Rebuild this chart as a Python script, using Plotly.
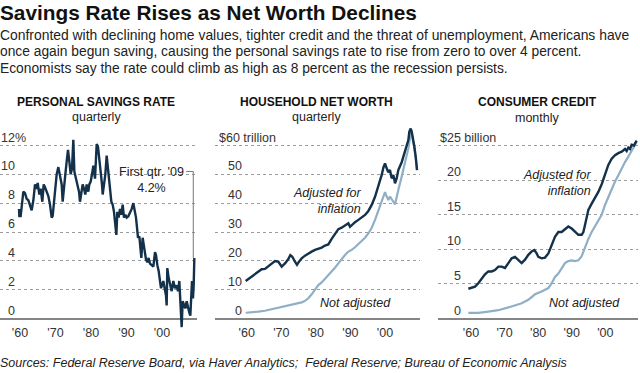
import plotly.graph_objects as go

W, H = 640, 373
FONT = "Liberation Sans, Arial, Helvetica, sans-serif"
DARK = "#13314a"
LIGHT = "#8fafc7"
GRID = "#9c9c9c"
TXT = "#222222"

# ---------------- data ----------------
X_TICKS = [1960, 1970, 1980, 1990, 2000]
X_TICK_TEXT = ["'60", "'70", "'80", "'90", "'00"]

SAV_TICKS = [0, 2, 4, 6, 8, 10, 12]
NW_TICKS = [0, 10, 20, 30, 40, 50, 60]
CC_TICKS = [0, 5, 10, 15, 20, 25]

SAV_YEARS = [1959.72, 1959.81, 1960.19, 1960.56, 1960.94, 1961.41, 1961.88, 1962.35, 1963.0, 1963.29,
             1963.76, 1964.23, 1964.69, 1964.98, 1965.45, 1965.82, 1966.29, 1966.67, 1967.04, 1967.51,
             1967.98, 1968.45, 1968.92, 1969.2, 1969.58, 1969.95, 1970.33, 1970.8, 1971.27, 1971.74,
             1972.02, 1972.39, 1972.77, 1973.15, 1973.52, 1973.9, 1974.27, 1974.65, 1975.02, 1975.31,
             1975.77, 1976.15, 1976.62, 1976.9, 1977.28, 1977.65, 1978.03, 1978.4, 1978.78, 1979.25,
             1979.53, 1979.91, 1980.28, 1980.66, 1981.13, 1981.6, 1981.97, 1982.35, 1982.72, 1983.1,
             1983.29, 1983.66, 1984.04, 1984.41, 1984.79, 1985.07, 1985.35, 1985.73, 1986.1, 1986.48,
             1986.85, 1987.14, 1987.42, 1987.79, 1988.17, 1988.54, 1988.92, 1989.3, 1989.67, 1990.05,
             1990.52, 1990.99, 1991.46, 1991.92, 1992.3, 1992.68, 1992.96, 1993.24, 1993.62, 1993.9,
             1994.18, 1994.55, 1994.84, 1995.12, 1995.49, 1995.87, 1996.24, 1996.62, 1997.09, 1997.56,
             1998.03, 1998.31, 1998.69, 1999.06, 1999.44, 1999.72, 2000.0, 2000.38, 2000.75, 2001.13,
             2001.31, 2001.5, 2001.88, 2002.25, 2002.72, 2003.19, 2003.66, 2004.13, 2004.51, 2004.88,
             2005.26, 2005.54, 2005.82, 2006.2, 2006.57, 2006.95, 2007.32, 2007.7, 2007.98, 2008.17,
             2008.45, 2008.73, 2008.92, 2009.11]
SAV_RATE = [7.6, 7.1, 7.1, 7.9, 8.8, 8.7, 8.3, 8.2, 7.6, 7.5,
            8.2, 9.3, 9.0, 9.4, 8.6, 9.0, 8.1, 9.3, 9.1, 8.8,
            8.5, 7.9, 7.0, 7.1, 8.1, 9.3, 10.0, 10.5, 10.0, 9.3,
            8.1, 9.3, 10.0, 10.9, 11.7, 10.9, 10.0, 10.4, 12.4, 10.2,
            9.7, 9.3, 8.8, 8.1, 8.8, 9.3, 9.0, 8.6, 9.3, 8.8,
            9.3, 9.5, 10.0, 10.6, 9.7, 12.1, 11.9, 11.1, 10.2, 9.3,
            8.6, 9.3, 10.0, 11.3, 10.4, 9.5, 8.8, 8.1, 7.9, 7.4,
            6.5, 5.8, 7.4, 7.0, 7.6, 7.2, 7.9, 7.0, 7.2, 7.0,
            7.1, 7.3, 7.6, 8.0, 7.6, 7.0, 6.3, 5.6, 5.7, 5.1,
            4.2, 5.6, 5.1, 4.6, 4.1, 3.9, 4.2, 3.8, 3.7, 3.6,
            4.6, 4.4, 3.7, 3.3, 2.6, 2.1, 2.3, 2.6, 2.1, 1.6,
            0.9, 3.5, 2.8, 2.3, 1.9, 2.6, 2.1, 2.3, 1.9, 2.6,
            0.5, -0.6, 1.2, 0.9, 0.7, 1.2, 0.7, 0.4, 0.2, 1.4,
            2.6, 1.4, 2.3, 4.2]

NW_ADJ_YEARS = [1959.7, 1960.47, 1961.44, 1962.4, 1963.37, 1964.33, 1965.29, 1966.26, 1967.22, 1968.19, 1969.15,
                1970.12, 1971.08, 1972.04, 1972.62, 1973.2, 1973.97, 1974.55, 1975.13, 1975.9,
                1976.86, 1977.83, 1978.79, 1979.76, 1980.72, 1981.68, 1982.65, 1983.61, 1984.58, 1985.54,
                1986.51, 1987.47, 1988.44, 1989.4, 1989.88, 1990.37, 1991.33, 1992.3, 1993.26, 1994.23,
                1995.19, 1996.16, 1997.12, 1997.89, 1998.57, 1999.05, 1999.53, 2000.01, 2000.49, 2000.97,
                2001.45, 2001.94, 2002.42, 2002.9, 2003.38, 2003.86, 2004.83, 2005.79, 2006.76, 2007.05,
                2007.44, 2007.73, 2008.11, 2008.5, 2008.89, 2009.27]
NW_ADJ = [13.0, 13.7, 14.5, 15.3, 16.2, 17.1, 17.2, 18.0, 19.1, 19.9, 19.7,
          18.0, 19.1, 20.6, 22.0, 21.4, 19.7, 18.6, 19.7, 20.9,
          21.8, 22.6, 23.2, 23.8, 24.1, 24.6, 25.3, 25.7, 27.6, 29.2,
          31.0, 31.5, 32.4, 33.0, 31.8, 32.4, 33.4, 34.2, 35.0, 35.9,
          37.3, 39.4, 42.2, 45.1, 47.5, 49.8, 52.3, 53.8, 52.1, 50.7,
          51.5, 48.6, 49.8, 46.9, 48.6, 51.5, 54.2, 57.9, 61.9, 64.8,
          65.9, 64.8, 62.5, 59.6, 56.1, 51.5]

NW_NOM_YEARS = [1959.7, 1961.44, 1963.37, 1965.29, 1967.22, 1969.15, 1971.08, 1973.01, 1974.93, 1975.9,
                1976.86, 1977.83, 1978.79, 1979.76, 1980.72, 1981.68, 1982.65, 1983.61, 1984.58, 1985.54,
                1986.51, 1987.47, 1988.44, 1989.4, 1990.37, 1991.33, 1992.3, 1993.26, 1994.23, 1995.19,
                1996.16, 1997.12, 1998.08, 1999.05, 1999.53, 2000.01, 2000.49, 2000.97, 2001.45, 2001.94,
                2002.42, 2002.9, 2003.38, 2003.86, 2004.83, 2005.79, 2006.76, 2007.05, 2007.44, 2007.73,
                2008.11, 2008.5, 2008.89, 2009.27]
NW_NOM = [2.0, 2.1, 2.4, 2.7, 3.2, 3.8, 4.2, 4.8, 5.3, 5.6,
          6.1, 7.0, 8.4, 10.2, 11.6, 12.5, 13.7, 14.9, 16.2, 17.6,
          19.1, 20.6, 22.0, 23.2, 23.8, 24.7, 25.7, 26.9, 28.0, 29.5,
          31.5, 34.2, 37.6, 41.1, 42.8, 43.8, 42.3, 41.1, 42.3, 41.1,
          40.5, 39.6, 41.7, 44.6, 49.2, 53.8, 59.0, 61.3, 64.2, 63.9,
          61.9, 59.0, 55.5, 51.5]

CC_ADJ_YEARS = [1959.21, 1960.2, 1961.19, 1962.18, 1963.18, 1964.17, 1965.16, 1966.16, 1967.15, 1968.14,
                1969.14, 1970.13, 1971.12, 1972.12, 1973.11, 1974.1, 1975.09, 1976.09, 1977.08, 1978.07,
                1978.87, 1979.56, 1980.06, 1981.05, 1982.05, 1983.04, 1984.03, 1985.02, 1986.02, 1987.01,
                1988.0, 1989.0, 1989.99, 1990.98, 1991.98, 1992.97, 1993.47, 1993.96, 1994.96, 1995.95,
                1996.94, 1997.93, 1998.93, 1999.92, 2000.91, 2001.91, 2002.9, 2003.89, 2004.89, 2005.88,
                2006.37, 2006.87, 2007.37, 2007.86, 2008.56, 2008.86, 2009.36]
CC_ADJ = [4.3, 4.5, 4.6, 5.1, 5.8, 6.4, 6.8, 6.8, 7.0, 7.5,
          7.5, 7.3, 8.0, 8.7, 8.9, 8.5, 8.0, 8.5, 9.2, 9.7,
          9.9, 9.4, 8.9, 8.7, 8.8, 9.4, 10.6, 11.8, 12.5, 12.5,
          12.9, 13.3, 13.0, 12.5, 12.1, 12.1, 12.5, 13.5, 15.7, 16.6,
          17.4, 18.3, 19.4, 20.7, 22.2, 23.1, 23.6, 23.9, 24.1, 24.5,
          24.2, 24.7, 24.5, 25.1, 25.0, 25.3, 25.7]

CC_NOM_YEARS = [1959.21, 1962.18, 1965.16, 1968.14, 1971.12, 1973.11, 1975.09, 1977.08, 1979.07, 1981.05,
                1983.04, 1984.03, 1985.02, 1986.02, 1987.01, 1988.0, 1989.0, 1989.99, 1990.98, 1991.98,
                1992.97, 1993.96, 1994.96, 1995.95, 1996.94, 1997.93, 1998.93, 1999.92, 2000.91, 2001.91,
                2002.9, 2003.89, 2004.89, 2005.88, 2006.87, 2007.86, 2008.86, 2009.36]
CC_NOM = [0.8, 0.8, 1.0, 1.2, 1.6, 1.9, 2.2, 2.7, 3.5, 3.9,
          4.4, 5.1, 6.0, 6.5, 7.3, 8.0, 8.3, 8.4, 8.3, 8.4,
          9.0, 10.4, 11.5, 12.5, 13.3, 14.0, 15.0, 16.4, 17.6, 18.8,
          19.8, 20.7, 21.7, 22.6, 23.4, 24.2, 25.0, 25.5]

# ---------------- layout helpers (pixel geometry) ----------------
def px(x):
    return x / W


def py(y):
    return 1 - y / H


PLOT_TOP, PLOT_BOT = 120, 329      # plot area, px from top
ZERO_PX, TOPGRID_PX = 318.5, 145.5  # where 0 and the top tick sit


def yrange(top_tick):
    s = (ZERO_PX - TOPGRID_PX) / top_tick
    return [-(PLOT_BOT - ZERO_PX) / s, (ZERO_PX - PLOT_TOP) / s]


def xrange(left_px, right_px, px1960, px_per_year):
    return [1960 - (px1960 - left_px) / px_per_year, 1960 + (right_px - px1960) / px_per_year]


panels = [
    dict(name="", xdom=(0, 197), x60=20.0, ppy=3.55, ticks=SAV_TICKS, lab_right=14.5,
         top_text="12%", top_right=25.5),
    dict(name="2", xdom=(215, 420), x60=246.7, ppy=3.457, ticks=NW_TICKS, lab_right=241.5,
         top_text="$60 trillion", top_right=276.0),
    dict(name="3", xdom=(438, 638), x60=471.0, ppy=3.357, ticks=CC_TICKS, lab_right=460.5,
         top_text="$25 billion", top_right=495.5),
]

fig = go.Figure()

fig.add_trace(go.Scatter(x=SAV_YEARS, y=SAV_RATE, mode="lines", xaxis="x", yaxis="y",
                         line=dict(color=DARK, width=2.4), hoverinfo="skip"))
fig.add_trace(go.Scatter(x=NW_NOM_YEARS, y=NW_NOM, mode="lines", xaxis="x2", yaxis="y2",
                         line=dict(color=LIGHT, width=2.2), hoverinfo="skip"))
fig.add_trace(go.Scatter(x=NW_ADJ_YEARS, y=NW_ADJ, mode="lines", xaxis="x2", yaxis="y2",
                         line=dict(color=DARK, width=2.4), hoverinfo="skip"))
fig.add_trace(go.Scatter(x=CC_NOM_YEARS, y=CC_NOM, mode="lines", xaxis="x3", yaxis="y3",
                         line=dict(color=LIGHT, width=2.2), hoverinfo="skip"))
fig.add_trace(go.Scatter(x=CC_ADJ_YEARS, y=CC_ADJ, mode="lines", xaxis="x3", yaxis="y3",
                         line=dict(color=DARK, width=2.4), hoverinfo="skip"))

layout = dict(
    width=W, height=H, margin=dict(l=0, r=0, t=0, b=0),
    paper_bgcolor="white", plot_bgcolor="rgba(0,0,0,0)",
    showlegend=False, font=dict(family=FONT, color=TXT, size=12.5),
)

annotations = []
for p in panels:
    n = p["name"]
    layout["xaxis" + n] = dict(
        domain=[px(p["xdom"][0]), px(p["xdom"][1])],
        range=xrange(p["xdom"][0], p["xdom"][1], p["x60"], p["ppy"]),
        tickmode="array", tickvals=X_TICKS, ticktext=X_TICK_TEXT,
        showgrid=False, zeroline=False, showline=False, ticks="",
        tickfont=dict(family=FONT, size=12.5, color="#333"),
        ticklabelstandoff=-6, anchor="y" + n, fixedrange=True,
    )
    layout["yaxis" + n] = dict(
        domain=[py(PLOT_BOT), py(PLOT_TOP)],
        range=yrange(p["ticks"][-1]),
        tickmode="array", tickvals=p["ticks"], showticklabels=False, ticks="",
        showgrid=True, gridcolor=GRID, griddash="dot", gridwidth=1,
        zeroline=True, zerolinecolor="#858585", zerolinewidth=2,
        showline=False, anchor="x" + n, fixedrange=True,
    )
    yref = "y" + n
    for t in p["ticks"]:
        if t == p["ticks"][-1]:
            txt, xr = p["top_text"], p["top_right"]
        else:
            txt, xr = str(t), p["lab_right"]
        annotations.append(dict(xref="paper", yref=yref, x=px(xr), y=t, yshift=8,
                                xanchor="right", yanchor="middle", text=txt, showarrow=False,
                                borderpad=0, borderwidth=0, font=dict(size=12.5, color="#333")))

fig.update_layout(**layout)


def text(x, y, s, size=12.5, xanchor="center", bold=False, italic=False, color=TXT, align="center"):
    if bold:
        s = "<b>" + s + "</b>"
    if italic:
        s = "<i>" + s + "</i>"
    annotations.append(dict(xref="paper", yref="paper", x=px(x), y=py(y), text=s, showarrow=False,
                            xanchor=xanchor, yanchor="middle", align=align, borderpad=0, borderwidth=0,
                            font=dict(size=size, color=color, family=FONT)))


# headline and intro
text(0, 12, "Savings Rate Rises as Net Worth Declines", size=20.8, xanchor="left", bold=True, color="#111")
text(0, 35, "Confronted with declining home values, tighter credit and the threat of unemployment, Americans have",
     size=13.9, xanchor="left")
text(0, 51.5, "once again begun saving, causing the personal savings rate to rise from zero to over 4 percent.",
     size=13.8, xanchor="left")
text(0, 68, "Economists say the rate could climb as high as 8 percent as the recession persists.",
     size=13.8, xanchor="left")

# panel titles
text(96, 101.5, "PERSONAL SAVINGS RATE", size=12, bold=True, color="#111")
text(96, 116.5, "quarterly", size=12.5)
text(316.5, 101.5, "HOUSEHOLD NET WORTH", size=12, bold=True, color="#111")
text(316.5, 116.5, "quarterly", size=12.5)
text(537.5, 101.5, "CONSUMER CREDIT", size=12, bold=True, color="#111")
text(537.5, 117.5, "monthly", size=12.5)

# series labels
text(362, 200.5, "Adjusted for<br>inflation", size=12.5, xanchor="right", italic=True, align="right")
text(355.5, 302.5, "Not adjusted", size=12.5, italic=True)
text(591.5, 182.5, "Adjusted for<br>inflation", size=12.5, xanchor="right", italic=True, align="right")
text(584.5, 302.5, "Not adjusted", size=12.5, italic=True)

# savings callout
text(151.5, 179.5, "First qtr. '09<br>4.2%", size=12.5)

# sources
text(0, 363, "Sources: Federal Reserve Board, via Haver Analytics;  Federal Reserve; Bureau of Economic Analysis",
     size=12.5, xanchor="left", italic=True)

# callout leader (in data units of the savings panel)
last_x, last_y = SAV_YEARS[-1], SAV_RATE[-1]
leader_y = 10.2
shapes = [
    dict(type="line", xref="x", yref="y", x0=2006.8, x1=last_x - 0.3, y0=leader_y, y1=leader_y,
         line=dict(color="#777", width=1)),
    dict(type="line", xref="x", yref="y", x0=last_x - 0.3, x1=last_x - 0.3, y0=leader_y, y1=last_y,
         line=dict(color="#777", width=1)),
]

fig.update_layout(annotations=annotations, shapes=shapes)
fig.write_html("out.html", config={"displayModeBar": False},
               post_script="document.body.style.margin='0';document.body.style.overflow='hidden';")
